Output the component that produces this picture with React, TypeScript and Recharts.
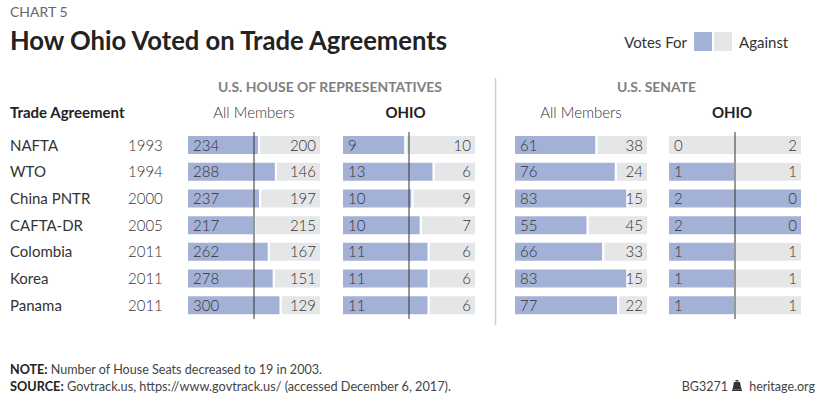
import { BarChart, Bar, XAxis, YAxis, ReferenceLine, LabelList } from 'recharts'

const BLUE = '#a4b1d6'
const GRAY = '#e5e6e8'
const INK = '#333333'
const FONT = "Lato, 'Open Sans', sans-serif"

// ── Data ─────────────────────────────────────────────────────────────────────

const agreements = ['NAFTA', 'WTO', 'China PNTR', 'CAFTA-DR', 'Colombia', 'Korea', 'Panama']
const years = ['1993', '1994', '2000', '2005', '2011', '2011', '2011']

const houseFor = [234, 288, 237, 217, 262, 278, 300]
const houseAgainst = [200, 146, 197, 215, 167, 151, 129]
const ohioHouseFor = [9, 13, 10, 10, 11, 11, 11]
const ohioHouseAgainst = [10, 6, 9, 7, 6, 6, 6]
const senateFor = [61, 76, 83, 55, 66, 83, 77]
const senateAgainst = [38, 24, 15, 45, 33, 15, 22]
const ohioSenateFor = [0, 1, 2, 2, 1, 1, 1]
const ohioSenateAgainst = [2, 1, 0, 0, 1, 1, 1]

function buildRows(yes: number[], no: number[]) {
  return agreements.map((name, i) => {
    const total = yes[i] + no[i]
    return { name, yes: yes[i], no: no[i], forShare: yes[i] / total, againstShare: no[i] / total }
  })
}

// ── Labels ───────────────────────────────────────────────────────────────────
// zero-width segments get no label entry, so the visible segment draws both ends.
// value arrives as "yes|no" so each label knows the whole row.

const numStyle = { fontSize: 15, fontWeight: 300, fill: INK, fontFamily: FONT }
const pairKey = (d: any) => `${d.yes}|${d.no}`

function ForLabel(props: any) {
  const x = Number(props.x), y = Number(props.y), w = Number(props.width), h = Number(props.height)
  const [yes, no] = String(props.value).split('|')
  const ty = y + h / 2 + 5.5
  return (
    <g>
      <text x={x + 6} y={ty} {...numStyle}>{yes}</text>
      {no === '0' && <text x={x + w - 5} y={ty} {...numStyle} textAnchor="end">{no}</text>}
    </g>
  )
}

function AgainstLabel(props: any) {
  const x = Number(props.x), y = Number(props.y), w = Number(props.width), h = Number(props.height)
  const [yes, no] = String(props.value).split('|')
  const ty = y + h / 2 + 5.5
  return (
    <g>
      {yes === '0' && <text x={x + 6} y={ty} {...numStyle}>{yes}</text>}
      <text x={x + w - 5} y={ty} {...numStyle} textAnchor="end">{no}</text>
    </g>
  )
}

// ── Panel ────────────────────────────────────────────────────────────────────

function Panel({ left, yes, no, mid }: { left: number; yes: number[]; no: number[]; mid: boolean }) {
  const data = buildRows(yes, no)
  return (
    <div style={{ position: 'absolute', left: left - 1, top: 132 }}>
      <BarChart width={134} height={187} data={data} layout="vertical" margin={{ top: 0, right: 0, bottom: 0, left: 0 }}>
        <XAxis type="number" domain={[0, 1]} allowDataOverflow hide />
        <YAxis type="category" dataKey="name" hide />
        <Bar dataKey="forShare" stackId="v" fill={BLUE} stroke="#fff" strokeWidth={2} barSize={20} isAnimationActive={false}>
          <LabelList dataKey={pairKey} content={ForLabel} />
        </Bar>
        <Bar dataKey="againstShare" stackId="v" fill={GRAY} stroke="#fff" strokeWidth={2} barSize={20} isAnimationActive={false}>
          <LabelList dataKey={pairKey} content={AgainstLabel} />
        </Bar>
        {mid && <ReferenceLine x={0.5} stroke={INK} strokeWidth={1} />}
      </BarChart>
    </div>
  )
}

export default function App() {
  return (
    <div style={{ position: 'absolute', left: 0, top: 0, width: 825, height: 397, background: '#fff', fontFamily: FONT }}>
      <svg width={825} height={397} style={{ position: 'absolute', left: 0, top: 0 }} fontFamily={FONT}>
        <text x={10} y={17} fontSize={14} fill="#666">CHART 5</text>
        <text x={10} y={50} fontSize={26} fontWeight={700} fill="#222" textLength={437} lengthAdjust="spacingAndGlyphs">
          How Ohio Voted on Trade Agreements
        </text>

        {/* legend */}
        <text x={687} y={48} fontSize={15} fill={INK} textAnchor="end">Votes For</text>
        <rect x={694} y={32} width={18} height={19} fill={BLUE} />
        <rect x={714} y={32} width={18} height={19} fill={GRAY} />
        <text x={739} y={48} fontSize={15} fill={INK}>Against</text>

        {/* group headers */}
        <text x={330} y={92} fontSize={14} fontWeight={700} fill="#808080" textAnchor="middle" textLength={224} lengthAdjust="spacingAndGlyphs">
          U.S. HOUSE OF REPRESENTATIVES
        </text>
        <text x={656.5} y={92} fontSize={14} fontWeight={700} fill="#808080" textAnchor="middle" textLength={79} lengthAdjust="spacingAndGlyphs">
          U.S. SENATE
        </text>
        <line x1={495.5} y1={78} x2={495.5} y2={325} stroke="#cfcfcf" strokeWidth={1.5} />

        <text x={10} y={118} fontSize={15} fontWeight={700} fill="#222">Trade Agreement</text>
        <text x={254} y={118} fontSize={15} fontWeight={300} fill={INK} textAnchor="middle">All Members</text>
        <text x={405.5} y={118} fontSize={15} fontWeight={700} fill="#222" textAnchor="middle">OHIO</text>
        <text x={581} y={118} fontSize={15} fontWeight={300} fill={INK} textAnchor="middle">All Members</text>
        <text x={732} y={118} fontSize={15} fontWeight={700} fill="#222" textAnchor="middle">OHIO</text>

        {agreements.map((a, i) => (
          <g key={a}>
            <text x={10} y={150.5 + i * 26.67} fontSize={15} fill={INK}>{a}</text>
            <text x={128} y={150.5 + i * 26.67} fontSize={15} fontWeight={300} fill={INK}>{years[i]}</text>
          </g>
        ))}

        {/* footer */}
        <text x={10} y={374} fontSize={12.5} fill="#444" textLength={312} lengthAdjust="spacingAndGlyphs">
          <tspan fontWeight={700} fill="#222">NOTE:</tspan> Number of House Seats decreased to 19 in 2003.
        </text>
        <text x={10} y={391} fontSize={12.5} fill="#444" textLength={441} lengthAdjust="spacingAndGlyphs">
          <tspan fontWeight={700} fill="#222">SOURCE:</tspan> Govtrack.us, https://www.govtrack.us/ (accessed December 6, 2017).
        </text>
        <text x={728} y={391} fontSize={12.5} fill="#444" textAnchor="end">BG3271</text>
        <g transform="translate(732,380)" fill="#333">
          <rect x={3.5} y={0} width={3} height={1.5} />
          <path d="M2 2 H8 Q8.6 6 9.6 9.5 H0.4 Q1.4 6 2 2 Z" />
          <rect x={0} y={9.5} width={10} height={1.5} />
        </g>
        <text x={815} y={391} fontSize={12.5} fill="#444" textAnchor="end">heritage.org</text>
      </svg>

      <Panel left={188} yes={houseFor} no={houseAgainst} mid />
      <Panel left={343} yes={ohioHouseFor} no={ohioHouseAgainst} mid />
      <Panel left={515} yes={senateFor} no={senateAgainst} mid={false} />
      <Panel left={669} yes={ohioSenateFor} no={ohioSenateAgainst} mid />
    </div>
  )
}
